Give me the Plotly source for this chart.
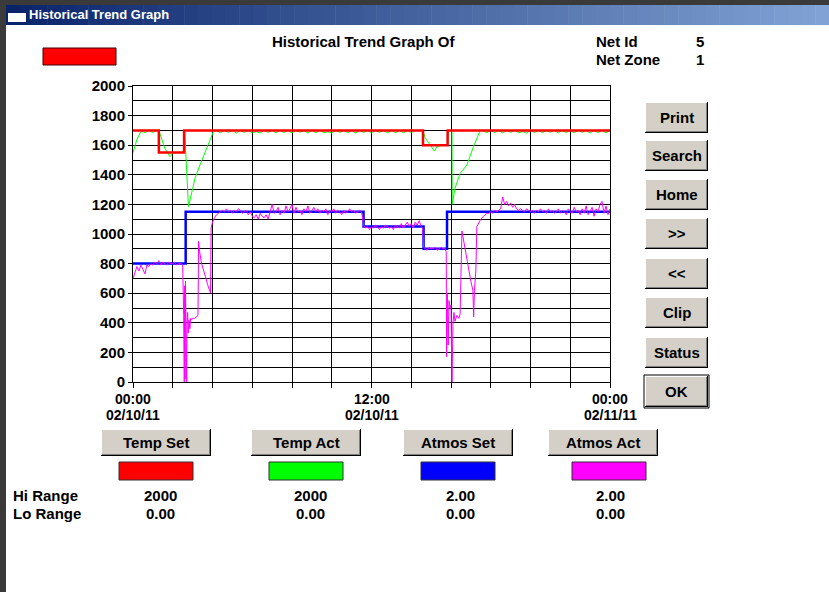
import plotly.graph_objects as go

# ---------------- data ----------------
x_tick_hours = [0, 2, 4, 6, 8, 10, 12, 14, 16, 18, 20, 22, 24]
x_label_hours = [0, 12, 24]
x_label_times = ["00:00", "12:00", "00:00"]
x_label_dates = ["02/10/11", "02/10/11", "02/11/11"]
y_tick_vals = [0, 200, 400, 600, 800, 1000, 1200, 1400, 1600, 1800, 2000]

# Temp Set (step series, degrees)
temp_set_hours = [0, 1.3, 2.57, 14.59, 15.83, 24]
temp_set_values = [1700, 1550, 1700, 1600, 1700, 1700]

SAMPLE_STEP = 0.1  # logger sampling interval (hours) for steady stretches
GREEN_STEP = 0.2


def sampled(start, values, step=SAMPLE_STEP):
    return [round(start + step * i, 3) for i in range(len(values))]


# Temp Act
temp_act_event1_hours = [0, 0.2, 0.43, 0.6, 0.8, 1.0, 1.2, 1.3, 1.45, 1.6, 1.86, 2.0, 2.2,
                         2.5, 2.57, 2.6, 2.79, 2.87, 3.12, 3.37, 3.71, 4.04]
temp_act_event1_values = [1550, 1640, 1700, 1684, 1700, 1686, 1700, 1700, 1640, 1580, 1522,
                          1545, 1550, 1552, 1555, 1700, 1185, 1230, 1376, 1466, 1579, 1690]
temp_act_steady1 = [1700, 1684, 1700, 1688, 1700, 1682, 1700, 1686, 1700, 1684,
                    1692, 1682, 1700, 1687, 1700, 1683, 1700, 1686, 1700, 1684,
                    1700, 1688, 1700, 1682, 1700, 1685, 1700, 1684, 1692, 1683,
                    1700, 1687, 1700, 1684, 1700, 1682, 1700, 1686, 1700, 1684,
                    1700, 1688, 1700, 1683, 1700, 1685, 1700, 1684, 1700, 1686,
                    1700, 1700]
temp_act_event2_hours = [14.59, 14.7, 15.16, 15.3, 15.5, 15.83, 15.86, 16.05, 16.06, 16.2,
                         16.46, 16.8, 17.13, 17.47]
temp_act_event2_values = [1700, 1650, 1561, 1590, 1600, 1600, 1700, 1700, 1200, 1308,
                          1410, 1466, 1590, 1700]
temp_act_steady2 = [1700, 1684, 1700, 1686, 1700, 1683, 1700, 1687, 1700, 1684,
                    1692, 1682, 1700, 1686, 1700, 1684, 1700, 1688, 1700, 1683,
                    1700, 1685, 1700, 1684, 1700, 1687, 1700, 1682, 1700, 1686,
                    1700, 1684, 1700]
temp_act_hours = (temp_act_event1_hours + sampled(4.2, temp_act_steady1, GREEN_STEP)
                  + temp_act_event2_hours + sampled(17.6, temp_act_steady2, GREEN_STEP))
temp_act_values = (temp_act_event1_values + temp_act_steady1
                   + temp_act_event2_values + temp_act_steady2)

# Atmos Set (step series, 0-2.00 scale)
atmos_set_hours = [0, 2.65, 11.6, 14.62, 15.8, 24]
atmos_set_values = [0.80, 1.15, 1.05, 0.90, 1.15, 1.15]

# Atmos Act (logged samples)
atmos_act_seg_a = [0.70, 0.74, 0.78, 0.75, 0.79, 0.76, 0.73, 0.79, 0.78, 0.80, 0.79, 0.81, 0.80,
                   0.82, 0.79, 0.81, 0.80, 0.79, 0.81, 0.80, 0.80, 0.81, 0.79, 0.80, 0.80, 0.79]
atmos_act_event1_hours = [2.55, 2.58, 2.6, 2.62, 2.64, 2.66, 2.68, 2.7, 2.72, 2.75, 2.78, 2.82,
                          2.86, 2.9, 2.95, 3.0, 3.1, 3.2, 3.27, 3.3, 3.35, 3.45, 3.55, 3.65,
                          3.75, 3.85, 3.9, 3.93, 4.0, 4.1, 4.2]
atmos_act_event1_values = [0.45, 0.0, 0.65, 0.02, 0.68, 0.10, 0.55, 0.0, 0.40, 0.47, 0.33, 0.42,
                           0.36, 0.43, 0.42, 0.43, 0.43, 0.44, 0.45, 0.95, 0.88, 0.80, 0.76, 0.71,
                           0.66, 0.61, 0.60, 1.04, 1.08, 1.11, 1.13]
atmos_act_seg_b = [1.14, 1.15, 1.16, 1.15, 1.17, 1.15, 1.16, 1.14,
                   1.16, 1.15, 1.17, 1.16, 1.14, 1.15, 1.16, 1.13, 1.15, 1.12,
                   1.11, 1.13, 1.10, 1.14, 1.12, 1.11, 1.13, 1.10, 1.16, 1.20,
                   1.14, 1.15, 1.18, 1.13, 1.16, 1.14, 1.19, 1.15, 1.17, 1.20,
                   1.14, 1.18, 1.15, 1.16, 1.13, 1.17, 1.15, 1.19, 1.14, 1.16,
                   1.18, 1.15, 1.17, 1.14, 1.16, 1.15, 1.17, 1.13, 1.16, 1.15,
                   1.17, 1.14, 1.16, 1.15, 1.13, 1.16, 1.14, 1.15, 1.17, 1.15,
                   1.16, 1.14, 1.15, 1.16, 1.15]
atmos_act_seg_c = [1.06, 1.04, 1.05, 1.03, 1.05, 1.04, 1.06, 1.05, 1.03, 1.05,
                   1.04, 1.06, 1.05, 1.04, 1.05, 1.03, 1.06, 1.05, 1.04, 1.07,
                   1.04, 1.06, 1.08, 1.05, 1.07, 1.04, 1.08, 1.06, 1.09, 1.05]
atmos_act_step_hours = [14.58, 14.62]
atmos_act_step_values = [1.04, 0.91]
atmos_act_seg_d = [0.90, 0.89, 0.91, 0.90, 0.90, 0.91, 0.89, 0.90, 0.91, 0.90, 0.90]
atmos_act_event2_hours = [15.76, 15.78, 15.82, 15.86, 15.9, 15.95, 16.0, 16.05, 16.1, 16.15,
                          16.2, 16.3, 16.4, 16.46, 16.55, 16.7, 16.85, 17.0, 17.1, 17.14,
                          17.18, 17.25, 17.3, 17.4, 17.5, 17.64, 17.8]
atmos_act_event2_values = [0.88, 0.17, 0.60, 0.25, 0.55, 0.50, 0.52, 0.0, 0.40, 0.47,
                           0.41, 0.45, 0.43, 0.46, 1.02, 0.90, 0.78, 0.68, 0.62, 0.44,
                           0.62, 0.75, 1.05, 1.08, 1.10, 1.12, 1.14]
atmos_act_seg_e = [1.14, 1.15, 1.14, 1.16, 1.15, 1.16, 1.17,
                   1.25, 1.20, 1.22, 1.19, 1.21, 1.18, 1.20, 1.17, 1.16, 1.17,
                   1.16, 1.15, 1.17, 1.16, 1.15, 1.16, 1.14, 1.16, 1.15, 1.17,
                   1.15, 1.16, 1.14, 1.17, 1.15, 1.16, 1.14, 1.15, 1.17, 1.14,
                   1.16, 1.15, 1.13, 1.17, 1.15, 1.14, 1.18, 1.15, 1.16, 1.13,
                   1.17, 1.14, 1.19, 1.13, 1.16, 1.18, 1.12, 1.17, 1.15, 1.20,
                   1.22, 1.14, 1.19, 1.13, 1.17]

atmos_act_hours = (sampled(0.0, atmos_act_seg_a) + atmos_act_event1_hours
                   + sampled(4.3, atmos_act_seg_b) + sampled(11.6, atmos_act_seg_c)
                   + atmos_act_step_hours + sampled(14.7, atmos_act_seg_d)
                   + atmos_act_event2_hours + sampled(17.9, atmos_act_seg_e))
atmos_act_values = (atmos_act_seg_a + atmos_act_event1_values + atmos_act_seg_b
                    + atmos_act_seg_c + atmos_act_step_values + atmos_act_seg_d
                    + atmos_act_event2_values + atmos_act_seg_e)

series_names = ["Temp Set", "Temp Act", "Atmos Set", "Atmos Act"]
series_colors = ["#ff0000", "#00ff00", "#0000ff", "#ff00ff"]
hi_ranges = ["2000", "2000", "2.00", "2.00"]
lo_ranges = ["0.00", "0.00", "0.00", "0.00"]
side_buttons = ["Print", "Search", "Home", ">>", "<<", "Clip", "Status", "OK"]
net_id = "5"
net_zone = "1"

# ---------------- layout geometry (pixels) ----------------
W, H = 829, 592
PL, PR, PT, PB = 133, 610, 86, 382


def px(x):
    return (x - PL) / (PR - PL)


def py(y):
    return (PB - y) / (PB - PT)


FONT = "Arial, Liberation Sans, sans-serif"
shapes = []
annotations = []


def rect(x0, y0, x1, y1, fill, line=None, lw=0):
    shapes.append(dict(type="rect", xref="paper", yref="paper",
                       x0=px(x0), x1=px(x1), y0=py(y1), y1=py(y0),
                       fillcolor=fill,
                       line=dict(color=line or fill, width=lw)))


def hline(x0, x1, y, color, w=1):
    shapes.append(dict(type="line", xref="paper", yref="paper",
                       x0=px(x0), x1=px(x1), y0=py(y), y1=py(y),
                       line=dict(color=color, width=w)))


def vline(x, y0, y1, color, w=1):
    shapes.append(dict(type="line", xref="paper", yref="paper",
                       x0=px(x), x1=px(x), y0=py(y0), y1=py(y1),
                       line=dict(color=color, width=w)))


def text(x, y, s, size=15, color="black", anchor="center", weight="bold"):
    annotations.append(dict(xref="paper", yref="paper", x=px(x), y=py(y),
                            text=s, showarrow=False, xanchor=anchor,
                            yanchor="middle",
                            font=dict(family=FONT, size=size, color=color,
                                      weight=weight)))


def button(x0, y0, x1, y1, label, default=False):
    rect(x0, y0, x1, y1, "#d4d0c8")
    hline(x0, x1, y0 + 0.5, "#ffffff")
    vline(x0 + 0.5, y0, y1, "#ffffff")
    hline(x0 + 1, x1 - 1, y1 - 1.5, "#808080")
    vline(x1 - 1.5, y0 + 1, y1 - 1, "#808080")
    hline(x0, x1, y1 - 0.5, "#000000")
    vline(x1 - 0.5, y0, y1, "#000000")
    if default:
        shapes.append(dict(type="rect", xref="paper", yref="paper",
                           x0=px(x0 - 1), x1=px(x1 + 1), y0=py(y1 + 1), y1=py(y0 - 1),
                           line=dict(color="#000000", width=1)))
    text((x0 + x1) / 2, (y0 + y1) / 2, label, size=15)


# window frame
rect(0, 0, W, 5, "#3a3a3a")
rect(0, 0, 6, H, "#3a3a3a")
c0, c1 = (10, 36, 106), (128, 162, 212)
N = 60
for i in range(N):
    t = i / (N - 1)
    col = "rgb(%d,%d,%d)" % tuple(round(a + (b - a) * t) for a, b in zip(c0, c1))
    xa = 6 + (W - 6) * i / N
    xb = 6 + (W - 6) * (i + 1) / N + 0.5
    rect(xa, 5, xb, 25, col)
rect(8, 10, 26, 22, "#ffffff")
rect(8, 10, 26, 13, "#0a246a")
text(27, 15, "Historical Trend Graph", size=13, color="white", anchor="left")

# header
rect(43, 48, 116, 65, "#ff0000", "#400000", 1)
text(364, 42, "Historical Trend Graph Of", size=15)
text(594, 42, "Net Id", size=15, anchor="left")
text(594, 60, "Net Zone", size=15, anchor="left")
text(700, 42, net_id, size=15)
text(700, 60, net_zone, size=15)

# side buttons
side_tops = [102, 140, 179, 218, 258, 297, 337, 376]
for lab, top in zip(side_buttons, side_tops):
    button(645, top, 708, top + 31, lab, default=(lab == "OK"))

# bottom legend buttons / swatches / ranges
btn_x = [101, 251, 403, 548]
sw_x = [119, 269, 421, 572]
val_cx = [160, 310, 460.5, 610.5]
for name, col, bx, sx, cx, hi, lo in zip(series_names, series_colors, btn_x, sw_x,
                                         val_cx, hi_ranges, lo_ranges):
    button(bx, 429, bx + 110, 456, name)
    rect(sx, 462, sx + 74, 480, col, "#303030", 1)
    text(cx, 495, hi, size=15)
    text(cx, 513, lo, size=15)
text(11, 495, "Hi Range", size=15, anchor="left")
text(11, 513, "Lo Range", size=15, anchor="left")

# x axis labels (placed in data coordinates)
for h, tm, dt in zip(x_label_hours, x_label_times, x_label_dates):
    annotations.append(dict(xref="x", yref="paper", x=h, y=py(399), text=tm,
                            showarrow=False, xanchor="center", yanchor="middle",
                            font=dict(family=FONT, size=14, color="black", weight="bold")))
    annotations.append(dict(xref="x", yref="paper", x=h, y=py(415), text=dt,
                            showarrow=False, xanchor="center", yanchor="middle",
                            font=dict(family=FONT, size=14, color="black", weight="bold")))

# ---------------- traces ----------------
fig = go.Figure()
fig.add_trace(go.Scatter(x=temp_act_hours, y=temp_act_values, mode="lines",
                         line=dict(color=series_colors[1], width=1),
                         name="Temp Act"))
fig.add_trace(go.Scatter(x=temp_set_hours, y=temp_set_values, mode="lines",
                         line=dict(color=series_colors[0], width=2.5, shape="hv"),
                         name="Temp Set"))
fig.add_trace(go.Scatter(x=atmos_set_hours, y=atmos_set_values, mode="lines",
                         line=dict(color=series_colors[2], width=2.5, shape="hv"),
                         name="Atmos Set", yaxis="y2"))
fig.add_trace(go.Scatter(x=atmos_act_hours, y=atmos_act_values, mode="lines",
                         line=dict(color=series_colors[3], width=1),
                         name="Atmos Act", yaxis="y2"))

fig.update_layout(
    width=W, height=H,
    margin=dict(l=PL, r=W - PR, t=PT, b=H - PB, pad=0),
    paper_bgcolor="white", plot_bgcolor="white",
    showlegend=False,
    shapes=shapes, annotations=annotations,
    xaxis=dict(range=[0, 24], tickvals=x_tick_hours, showticklabels=False,
               ticks="outside", ticklen=5, tickcolor="black", tickwidth=1,
               showgrid=True, gridcolor="black", gridwidth=1,
               showline=True, linecolor="black", linewidth=1, mirror=True,
               zeroline=False, fixedrange=True),
    yaxis=dict(range=[0, 2000], tickvals=y_tick_vals,
               ticks="outside", ticklen=4, tickcolor="black", tickwidth=1,
               tickfont=dict(family=FONT, size=15, color="black", weight="bold"),
               showgrid=True, gridcolor="black", gridwidth=1,
               minor=dict(dtick=100, tick0=0, showgrid=True, gridcolor="black",
                          gridwidth=1, ticks=""),
               showline=True, linecolor="black", linewidth=1, mirror=True,
               zeroline=False, fixedrange=True),
    yaxis2=dict(range=[0, 2], overlaying="y", visible=False, fixedrange=True),
)

fig.write_html("out.html", config={"displayModeBar": False},
               post_script="document.body.style.margin='0';document.body.style.padding='0';")
